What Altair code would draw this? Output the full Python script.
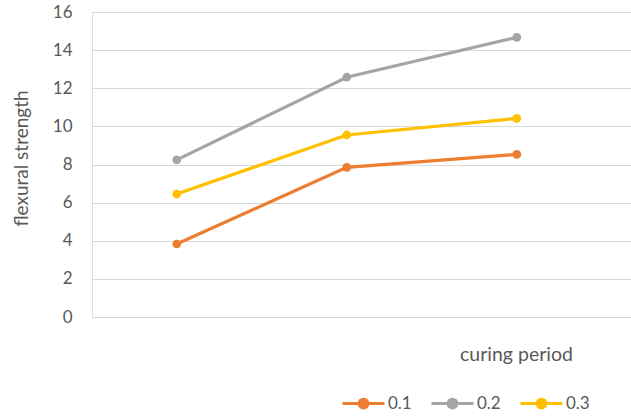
import altair as alt
import pandas as pd

# Curing period steps (unlabelled on the chart) and flexural strength per ratio
periods = [1, 2, 3]
series = ["0.1", "0.2", "0.3"]
strength_01 = [3.83, 7.85, 8.53]
strength_02 = [8.24, 12.58, 14.67]
strength_03 = [6.45, 9.55, 10.42]
colors = ["#ED7D31", "#A5A5A5", "#FFC000"]

rows = []
for name, vals in zip(series, [strength_01, strength_02, strength_03]):
    for p, v in zip(periods, vals):
        rows.append({"period": p, "ratio": name, "strength": v})
df = pd.DataFrame(rows)

label_color = "#595959"
font = "Lato"

# Legend glyph: a short line with a dot in the middle
legend_glyph = "M-1,0H1M-0.21,0A0.21,0.21 0 1,1 0.21,0A0.21,0.21 0 1,1 -0.21,0"

x_enc = alt.X(
    "period:O",
    scale=alt.Scale(type="point", padding=0.585, align=0.426),
    axis=alt.Axis(
        title="curing period",
        labels=False,
        ticks=False,
        domain=False,
        grid=False,
        titleX=424,
        titleY=43,
        titleAlign="center",
        titleBaseline="alphabetic",
        titleFont=font,
        titleFontSize=19.5,
        titleFontWeight="normal",
        titleColor=label_color,
    ),
)
y_enc = alt.Y(
    "strength:Q",
    scale=alt.Scale(domain=[0, 16], nice=False),
    axis=alt.Axis(
        title="flexural strength",
        values=[0, 2, 4, 6, 8, 10, 12, 14, 16],
        ticks=False,
        domain=False,
        labelPadding=20,
        labelFont=font,
        labelFontSize=17,
        labelColor=label_color,
        gridColor="#D9D9D9",
        gridWidth=1,
        titleFont=font,
        titleFontSize=19,
        titleFontWeight="normal",
        titleColor=label_color,
        titleX=-61,
        titleY=146,
        titleAngle=-90,
        titleAlign="center",
        titleBaseline="bottom",
    ),
)
color_enc = alt.Color(
    "ratio:N",
    scale=alt.Scale(domain=series, range=colors),
    legend=alt.Legend(
        title=None,
        orient="none",
        direction="horizontal",
        legendX=249,
        legendY=369,
        symbolType=legend_glyph,
        symbolSize=1764,
        symbolStrokeWidth=3,
        labelFont=font,
        labelFontSize=17,
        labelColor=label_color,
        labelOffset=2,
        columnPadding=13,
        padding=0,
    ),
)

base = alt.Chart(df).encode(x=x_enc, y=y_enc, color=color_enc)
lines = base.mark_line(strokeWidth=3.2)
points = base.mark_point(filled=True, size=75, opacity=1, shape="circle")

chart = (
    alt.layer(lines, points)
    .properties(
        width=539,
        height=305,
        autosize=alt.AutoSizeParams(type="none"),
        padding={"left": 92, "top": 12, "right": 0, "bottom": 102},
    )
    .configure_view(stroke=None)
    .configure(background="white")
)

chart.save("out.html", embed_options={"renderer": "svg", "actions": False})
